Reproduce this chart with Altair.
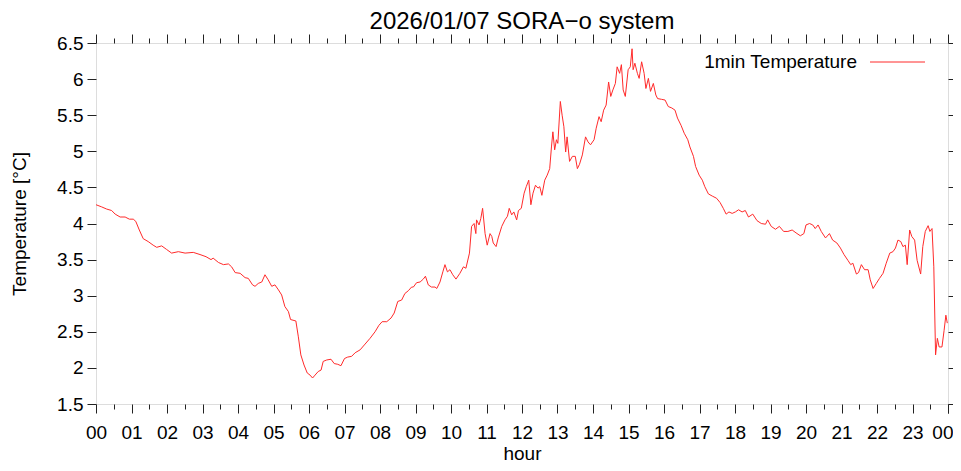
import altair as alt
import pandas as pd

# ---- data (hour of day, temperature in °C) ----
hours = [
    0.00, 0.16, 0.30, 0.44, 0.54, 0.68, 0.82, 0.94, 1.05, 1.12, 1.22, 1.33, 1.47, 1.61, 1.71, 1.85, 1.99,
    2.13, 2.32, 2.51, 2.74, 2.93, 3.10, 3.24, 3.30, 3.45, 3.59, 3.73, 3.82, 3.92, 4.06, 4.20, 4.29, 4.41,
    4.48, 4.57, 4.67, 4.76, 4.85, 4.95, 5.04, 5.14, 5.23, 5.32, 5.42, 5.48, 5.63, 5.70, 5.77, 5.86, 5.95,
    6.03, 6.10, 6.17, 6.26, 6.34, 6.40, 6.50, 6.62, 6.71, 6.81, 6.90, 7.00, 7.09, 7.20, 7.30, 7.44, 7.58,
    7.72, 7.86, 7.97, 8.06, 8.19, 8.31, 8.40, 8.50, 8.61, 8.70, 8.80, 8.89, 8.94, 9.03, 9.13, 9.22, 9.28,
    9.36, 9.45, 9.55, 9.60, 9.69, 9.77, 9.83, 9.90, 9.97, 10.05, 10.14, 10.25, 10.35, 10.42, 10.52, 10.58,
    10.65, 10.70, 10.72, 10.79, 10.84, 10.89, 10.96, 11.02, 11.10, 11.15, 11.19, 11.27, 11.33, 11.43, 11.52,
    11.59, 11.64, 11.71, 11.77, 11.85, 11.90, 11.98, 12.06, 12.12, 12.19, 12.25, 12.31, 12.38, 12.45, 12.50,
    12.56, 12.64, 12.71, 12.78, 12.83, 12.87, 12.92, 12.97, 13.01, 13.08, 13.13, 13.18, 13.23, 13.27, 13.34,
    13.42, 13.50, 13.56, 13.62, 13.70, 13.79, 13.86, 13.93, 14.03, 14.09, 14.17, 14.23, 14.30, 14.37, 14.44,
    14.50, 14.56, 14.63, 14.68, 14.75, 14.80, 14.85, 14.91, 14.99, 15.05, 15.10, 15.13, 15.18, 15.25, 15.30,
    15.37, 15.44, 15.49, 15.56, 15.62, 15.70, 15.77, 15.82, 15.93, 16.03, 16.12, 16.22, 16.31, 16.38, 16.48,
    16.57, 16.67, 16.73, 16.83, 16.89, 16.99, 17.08, 17.15, 17.25, 17.36, 17.48, 17.58, 17.67, 17.75, 17.83,
    17.92, 18.01, 18.10, 18.20, 18.29, 18.38, 18.50, 18.62, 18.74, 18.86, 18.92, 19.02, 19.14, 19.25, 19.37,
    19.49, 19.61, 19.72, 19.84, 19.94, 20.00, 20.10, 20.19, 20.26, 20.34, 20.43, 20.55, 20.66, 20.75, 20.87,
    20.97, 21.07, 21.18, 21.26, 21.32, 21.42, 21.48, 21.56, 21.65, 21.75, 21.81, 21.89, 21.98, 22.07, 22.17,
    22.26, 22.36, 22.45, 22.52, 22.59, 22.67, 22.73, 22.80, 22.85, 22.92, 22.98, 23.06, 23.13, 23.23, 23.29,
    23.36, 23.44, 23.49, 23.55, 23.60, 23.65, 23.70, 23.75, 23.83, 23.89, 23.94, 23.98,
]
temps = [
    4.26, 4.23, 4.20, 4.18, 4.13, 4.09, 4.09, 4.06, 4.06, 4.03, 3.91, 3.79, 3.75, 3.70, 3.67, 3.69, 3.64,
    3.59, 3.61, 3.59, 3.60, 3.57, 3.54, 3.50, 3.52, 3.46, 3.43, 3.44, 3.40, 3.32, 3.31, 3.25, 3.24, 3.15,
    3.13, 3.17, 3.19, 3.29, 3.22, 3.13, 3.15, 3.08, 3.01, 2.85, 2.78, 2.67, 2.65, 2.43, 2.18, 2.04, 1.93,
    1.90, 1.86, 1.90, 1.95, 1.97, 2.09, 2.11, 2.12, 2.06, 2.05, 2.03, 2.13, 2.15, 2.16, 2.21, 2.25, 2.33,
    2.41, 2.50, 2.59, 2.64, 2.64, 2.69, 2.76, 2.92, 2.94, 3.03, 3.07, 3.12, 3.12, 3.18, 3.19, 3.23, 3.27,
    3.15, 3.12, 3.12, 3.10, 3.19, 3.33, 3.43, 3.33, 3.36, 3.29, 3.23, 3.31, 3.40, 3.38, 3.59, 3.96,
    4.00, 3.86, 4.05, 3.98, 4.07, 4.21, 3.86, 3.70, 3.86, 3.82, 3.73, 3.68, 3.80, 3.96, 4.05,
    4.10, 4.21, 4.12, 4.16, 4.05, 4.18, 4.21, 4.42, 4.51, 4.60, 4.26, 4.42, 4.53, 4.49, 4.51,
    4.39, 4.60, 4.67, 4.76, 5.06, 5.27, 5.02, 5.16, 5.11, 5.69, 5.50, 5.34, 4.99, 5.20, 4.86,
    4.93, 4.93, 4.76, 4.82, 4.95, 5.20, 5.13, 5.09, 5.16, 5.32, 5.48, 5.41, 5.57, 5.64, 5.96,
    5.76, 5.85, 5.94, 6.17, 6.08, 6.20, 5.85, 5.76, 6.13, 6.17, 6.42, 6.13, 6.22, 6.08, 6.01,
    6.24, 6.08, 5.87, 6.01, 5.83, 5.94, 5.78, 5.73, 5.72, 5.71, 5.62, 5.60, 5.57, 5.46, 5.36,
    5.25, 5.16, 5.06, 4.93, 4.79, 4.67, 4.60, 4.51, 4.41, 4.38, 4.35, 4.29, 4.21, 4.13, 4.16,
    4.14, 4.16, 4.19, 4.16, 4.18, 4.09, 4.13, 4.04, 4.00, 3.99, 4.05, 3.96, 3.92, 3.96, 3.89,
    3.89, 3.91, 3.87, 3.83, 3.86, 3.98, 4.00, 3.98, 3.93, 3.98, 3.89, 3.80, 3.86, 3.77, 3.73,
    3.66, 3.57, 3.49, 3.43, 3.45, 3.30, 3.32, 3.43, 3.36, 3.36, 3.22, 3.10, 3.17, 3.24, 3.31,
    3.45, 3.59, 3.61, 3.66, 3.77, 3.75, 3.68, 3.70, 3.43, 3.91, 3.82, 3.77, 3.49, 3.30, 3.68,
    3.89, 3.97, 3.89, 3.93, 3.40, 2.18, 2.41, 2.29, 2.29, 2.52, 2.73, 2.62,
]

major_hours = list(range(0, 25))
minor_hours = [h + 0.5 for h in range(24)]
end_hour = [24]
y_ticks = [1.5, 2.0, 2.5, 3.0, 3.5, 4.0, 4.5, 5.0, 5.5, 6.0, 6.5]
series_name = ["1min Temperature"]
title_text = "2026/01/07 SORA\u2212o system"

df = pd.DataFrame({"hour": hours, "temp": temps})
legend_df = pd.DataFrame({"name": series_name})

FONT = "Liberation Sans"
LINE_COLOR = "#ff2a2a"
FS = 19
xs = alt.Scale(domain=[0, 24], nice=False, zero=False)
ys = alt.Scale(domain=[1.5, 6.5], nice=False, zero=False)

hour_label = ("datum.value >= 24 ? '' : (datum.value < 10 ? '0' + datum.value : '' + datum.value)")
end_label = "'0' + (datum.value % 24)"

common_axis = dict(domain=False, tickColor="#222222", tickWidth=1, grid=False)

main = alt.Chart(df).mark_line(color=LINE_COLOR, strokeWidth=1, clip=True).encode(
    x=alt.X("hour:Q", scale=xs, axis=alt.Axis(
        orient="bottom", values=major_hours, tickSize=9, labelExpr=hour_label,
        labelFontSize=FS, labelPadding=10, title="hour", titleFontSize=FS,
        titleFontWeight="normal", titlePadding=2, labelFlush=False, labelOverlap=False,
        **common_axis)),
    y=alt.Y("temp:Q", scale=ys, axis=alt.Axis(
        orient="left", values=y_ticks, format="~g", tickSize=9, labelFontSize=FS,
        labelPadding=4, title="Temperature [°C]", titleFontSize=FS,
        titleFontWeight="normal", titlePadding=27, labelOverlap=False, **common_axis)),
)

ghost = dict(opacity=0, clip=True)

bottom_minor = alt.Chart(df).mark_line(**ghost).encode(
    x=alt.X("hour:Q", scale=xs, axis=alt.Axis(orient="bottom", values=minor_hours, tickSize=5,
                                               labels=False, title=None, **common_axis)),
    y=alt.Y("temp:Q", scale=ys, axis=alt.Axis(orient="right", values=y_ticks, tickSize=9,
                                               labels=False, title=None, **common_axis)),
)
bottom_end = alt.Chart(df).mark_line(**ghost).encode(
    x=alt.X("hour:Q", scale=xs, axis=alt.Axis(orient="bottom", values=end_hour, tickSize=9,
                                               labelExpr=end_label, labelFontSize=FS,
                                               labelPadding=10, labelAlign="right", labelOffset=5,
                                               labelFlush=False, labelOverlap=False,
                                               title=None, **common_axis)),
    y=alt.Y("temp:Q", scale=ys, axis=None),
)
top_major = alt.Chart(df).mark_line(**ghost).encode(
    x=alt.X("hour:Q", scale=xs, axis=alt.Axis(orient="top", values=major_hours, tickSize=9,
                                               labels=False, title=None, **common_axis)),
    y=alt.Y("temp:Q", scale=ys, axis=None),
)
top_minor = alt.Chart(df).mark_line(**ghost).encode(
    x=alt.X("hour:Q", scale=xs, axis=alt.Axis(orient="top", values=minor_hours, tickSize=5,
                                               labels=False, title=None, **common_axis)),
    y=alt.Y("temp:Q", scale=ys, axis=None),
)

legend_text = alt.Chart(legend_df).mark_text(
    align="right", baseline="middle", fontSize=FS, font=FONT, color="black"
).encode(text="name:N", x=alt.value(761), y=alt.value(19))
legend_line = alt.Chart(legend_df).mark_rule(color=LINE_COLOR, strokeWidth=1).encode(
    x=alt.value(774), x2=alt.value(829), y=alt.value(19))

chart = alt.layer(
    main, bottom_minor, bottom_end, top_major, top_minor, legend_text, legend_line
).resolve_scale(
    x="shared", y="shared"
).resolve_axis(
    x="independent", y="independent"
).properties(
    width=852, height=361,
    autosize="none",
    padding={"left": 88, "top": 35, "right": 5, "bottom": 59},
    title=alt.TitleParams(title_text, fontSize=24, fontWeight="normal", font=FONT,
                          anchor="middle", offset=0, color="black"),
    background="white",
).configure_view(
    stroke="black", strokeWidth=2
).configure(
    font=FONT
).configure_axis(
    labelFont=FONT, titleFont=FONT, labelColor="black", titleColor="black"
)

chart.save("out.html", embed_options={"renderer": "svg", "actions": False})
